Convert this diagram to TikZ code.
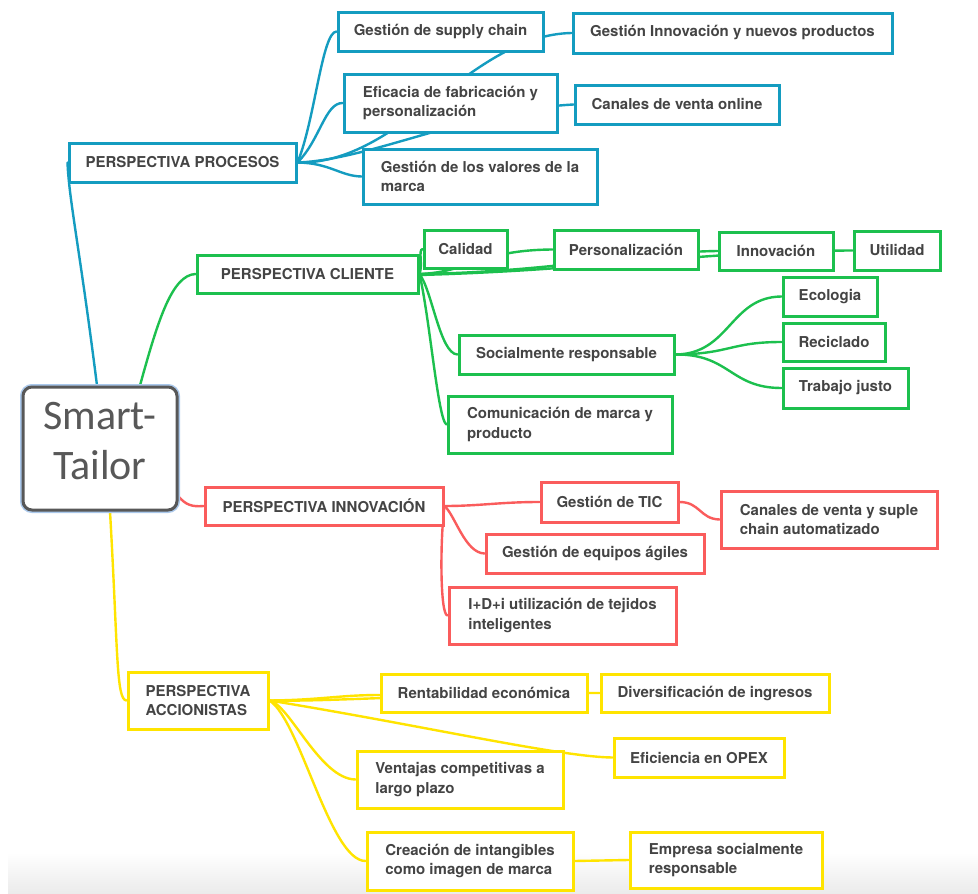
\documentclass[tikz,border=0pt]{standalone}
\usepackage{fontspec}
\setmainfont{TeX Gyre Heros}
\newfontfamily\rootfont{Carlito}

\definecolor{mblue}{RGB}{20,156,192}
\definecolor{mgreen}{RGB}{28,192,78}
\definecolor{mred}{RGB}{250,92,92}
\definecolor{myellow}{RGB}{255,228,0}
\definecolor{txt}{RGB}{68,68,68}
\definecolor{rootline}{RGB}{88,88,88}
\definecolor{rootglow}{RGB}{170,200,235}

\pgfdeclarelayer{paper}
\pgfdeclarelayer{links}
\pgfsetlayers{paper,links,main}

\tikzset{
  mmbox/.style={rectangle, line width=3pt, fill=white, inner xsep=4pt, inner ysep=0pt,
    align=left, text=txt, font=\fontsize{15}{19.5}\selectfont\bfseries},
  rootbox/.style={rectangle, rounded corners=9pt, draw=rootline, line width=3pt, fill=white,
    preaction={draw=rootglow, line width=6pt}},
  link/.style={line width=2.4pt, line cap=round},
}

% topic box given by its corners: name, colour, x1, y1, x2, y2, text
\newcommand\mmbox[7]{%
  \pgfmathsetmacro\mmw{#5-#3}\pgfmathsetmacro\mmh{#6-#4}%
  \pgfmathsetmacro\mmx{(#3+#5)/2}\pgfmathsetmacro\mmy{(#4+#6)/2}%
  \node[mmbox, draw=#2, minimum width=\mmw pt, minimum height=\mmh pt] (#1) at (\mmx,\mmy) {#7};}

\begin{document}
\begin{tikzpicture}[x=1pt, y=-1pt]
\useasboundingbox (0,0) rectangle (978,894);
\begin{pgfonlayer}{paper}
\fill[white] (0,0) rectangle (978,894);
% soft grey shade along the bottom edge
\shade[top color=white, bottom color=black!8] (8,852) rectangle (978,894);
\end{pgfonlayer}

% central topic
\node[rootbox, minimum width=154pt, minimum height=123pt] (root) at (100,448.5) {};
\node[font=\rootfont\fontsize{42}{50}\selectfont, text=rootline, align=center, inner sep=0pt]
  (rootlabel) at (100,441) {Smart-\\Tailor};

% processes
\mmbox{proc}{mblue}{69}{143}{296}{182}{PERSPECTIVA PROCESOS}
\mmbox{sc}{mblue}{338}{12}{543}{51}{Gestión de supply chain}
\mmbox{ginn}{mblue}{573}{13}{892}{53}{Gestión Innovación y nuevos productos}
\mmbox{efi}{mblue}{344}{74}{557}{132}{Eficacia de fabricación y\\personalización}
\mmbox{cvo}{mblue}{575}{85}{779}{124}{Canales de venta online}
\mmbox{val}{mblue}{363}{149}{597}{204}{Gestión de los valores de la\\marca}

% customer
\mmbox{cli}{mgreen}{197}{255}{418}{293}{PERSPECTIVA CLIENTE}
\mmbox{cal}{mgreen}{424}{230}{507}{268}{Calidad}
\mmbox{per}{mgreen}{554}{230}{698}{269}{Personalización}
\mmbox{innov}{mgreen}{719}{232}{833}{270}{Innovación}
\mmbox{uti}{mgreen}{854}{231}{940}{270}{Utilidad}
\mmbox{eco}{mgreen}{783}{277}{877}{316}{Ecologia}
\mmbox{rec}{mgreen}{783}{323}{885}{361}{Reciclado}
\mmbox{tra}{mgreen}{783}{368}{908}{408}{Trabajo justo}
\mmbox{soc}{mgreen}{459}{335}{674}{374}{Socialmente responsable}
\mmbox{com}{mgreen}{448}{396}{672}{453}{Comunicación de marca y\\producto}

% innovation
\mmbox{inn}{mred}{205}{487}{443}{525}{PERSPECTIVA INNOVACIÓN}
\mmbox{tic}{mred}{541}{482}{678}{522}{Gestión de TIC}
\mmbox{cvs}{mred}{721}{491}{937}{548}{Canales de venta y suple\\chain automatizado}
\mmbox{gea}{mred}{486}{534}{704}{573}{Gestión de equipos ágiles}
\mmbox{idi}{mred}{449}{587}{676}{644}{I+D+i utilización de tejidos\\inteligentes}

% shareholders
\mmbox{acc}{myellow}{128}{672}{268}{729}{PERSPECTIVA\\ACCIONISTAS}
\mmbox{ren}{myellow}{381}{674}{587}{712}{Rentabilidad económica}
\mmbox{div}{myellow}{601}{674}{829}{712}{Diversificación de ingresos}
\mmbox{opx}{myellow}{614}{738}{784}{777}{Eficiencia en OPEX}
\mmbox{ven}{myellow}{357}{751}{563}{808}{Ventajas competitivas a\\largo plazo}
\mmbox{cre}{myellow}{367}{832}{573}{890}{Creación de intangibles\\como imagen de marca}
\mmbox{emp}{myellow}{630}{832}{822}{888}{Empresa socialmente\\responsable}

\begin{pgfonlayer}{links}
% main branches
\draw[link, mblue] ([xshift=-3pt]root.north) .. controls (80,250) and (69,200) .. (proc.west);
\draw[link, mgreen] ([xshift=40pt]root.north) .. controls (158,320) and (172,275) .. (cli.west);
\draw[link, mred] ([yshift=15pt]root.south east) .. controls (186,505) and (192,507) .. (inn.west);
\draw[link, myellow] ([xshift=10pt]root.south) .. controls (118,650) and (116,700) .. (acc.west);

% processes
\draw[link, mblue] (proc.east) .. controls (315,120) and (322,32) .. (sc.west);
\draw[link, mblue] (proc.east) .. controls (320,140) and (325,103) .. (efi.west);
\draw[link, mblue] (proc.east) .. controls (330,163) and (340,176) .. (val.west);
\draw[link, mblue] (proc.east) .. controls (400,165) and (470,35) .. (ginn.west);
\draw[link, mblue] (proc.east) .. controls (370,160) and (470,110) .. (cvo.west);

% customer
\draw[link, mgreen] (cli.east) .. controls (423,265) and (418,250) .. (cal.west);
\draw[link, mgreen] (cli.east) .. controls (470,272) and (480,250) .. (per.west);
\draw[link, mgreen] (cli.east) .. controls (550,272) and (640,252) .. (innov.west);
\draw[link, mgreen] ([yshift=-1pt]cli.east) .. controls (600,270) and (700,251) .. (uti.west);
\draw[link, mgreen] (cli.east) .. controls (432,290) and (440,354) .. (soc.west);
\draw[link, mgreen] (cli.east) .. controls (430,320) and (438,420) .. (com.west);
\draw[link, mgreen] (soc.east) .. controls (730,354) and (730,297) .. (eco.west);
\draw[link, mgreen] (soc.east) .. controls (730,354) and (730,342) .. (rec.west);
\draw[link, mgreen] (soc.east) .. controls (730,354) and (730,388) .. (tra.west);

% innovation
\draw[link, mred] (inn.east) .. controls (480,506) and (500,502) .. (tic.west);
\draw[link, mred] (tic.east) .. controls (700,502) and (700,519) .. (cvs.west);
\draw[link, mred] (inn.east) .. controls (455,515) and (465,553) .. (gea.west);
\draw[link, mred] (inn.east) .. controls (440,540) and (440,615) .. (idi.west);

% shareholders
\draw[link, myellow] (acc.east) .. controls (320,700) and (340,695) .. ([yshift=-2pt]ren.west);
\draw[link, myellow] (acc.east) .. controls (330,702) and (450,693) .. (div.west);
\draw[link, myellow] (acc.east) .. controls (420,725) and (560,757) .. (opx.west);
\draw[link, myellow] (acc.east) .. controls (290,705) and (320,779) .. (ven.west);
\draw[link, myellow] (acc.east) .. controls (300,720) and (330,861) .. (cre.west);
\draw[link, myellow] (cre.east) -- (emp.west);
\end{pgfonlayer}
\end{tikzpicture}
\end{document}
